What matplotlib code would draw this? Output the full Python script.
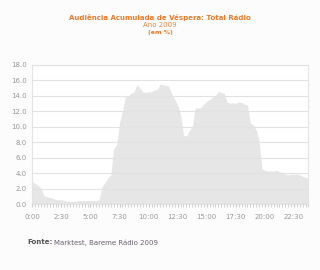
import numpy as np
import matplotlib.pyplot as plt

# audiência acumulada (%) por quarto de hora, 0:00 .. 23:45
audiencia = [
    2.9, 2.7, 2.4, 2.1, 1.1, 1.0, 0.9, 0.8,
    0.6, 0.6, 0.6, 0.5, 0.4, 0.4, 0.4, 0.4,
    0.5, 0.5, 0.5, 0.5, 0.5, 0.5, 0.5, 0.6,
    2.3, 2.8, 3.4, 3.8, 7.2, 7.6, 10.5, 12.0,
    13.9, 14.0, 14.3, 14.5, 15.4, 15.0, 14.5, 14.4,
    14.5, 14.5, 14.7, 14.8, 15.5, 15.4, 15.3, 15.2,
    14.2, 13.5, 12.8, 11.6, 8.9, 8.8, 9.5, 10.0,
    12.4, 12.4, 12.5, 12.9, 13.3, 13.5, 13.8, 14.0,
    14.6, 14.4, 14.3, 13.2, 13.0, 13.1, 13.0, 13.2,
    13.1, 12.9, 12.8, 10.5, 10.2, 9.6, 8.2, 4.6,
    4.4, 4.3, 4.3, 4.3, 4.4, 4.2, 4.1, 3.9,
    3.8, 3.9, 3.9, 3.9, 3.8, 3.6, 3.5, 3.3,
]
tick_horas = [0, 2.5, 5, 7.5, 10, 12.5, 15, 17.5, 20, 22.5]
tick_labels = ['0:00', '2:30', '5:00', '7:30', '10:00', '12:30', '15:00', '17:30', '20:00', '22:30']
y_ticks = [0, 2, 4, 6, 8, 10, 12, 14, 16, 18]

horas = np.arange(len(audiencia)) * 0.25

fig = plt.figure(figsize=(3.2, 2.7), dpi=100, facecolor='#fcfcfc')
ax = fig.add_axes([0.101, 0.243, 0.863, 0.518])
ax.set_facecolor('white')

ax.fill_between(horas, audiencia, 0, color='#e6e6e6', lw=0)
ax.set_xlim(0, 23.75)
ax.set_ylim(0, 18)

ax.set_yticks(y_ticks)
ax.set_yticklabels([f'{v:.1f}' for v in y_ticks])
ax.set_xticks(tick_horas)
ax.set_xticklabels(tick_labels)
ax.set_xticks(horas, minor=True)
ax.yaxis.grid(True, color='#e2e2e2', lw=0.8)
ax.set_axisbelow(False)
for t in ax.yaxis.get_gridlines():
    t.set_zorder(0.5)

ax.tick_params(axis='y', length=0, labelsize=5, labelcolor='#999999', pad=4)
ax.tick_params(axis='x', which='major', length=2, color='#cccccc', labelsize=5,
               labelcolor='#999999', pad=5)
ax.tick_params(axis='x', which='minor', length=2, color='#cccccc')
for s in ax.spines.values():
    s.set_color('#e4e4e4')
    s.set_linewidth(0.8)

fig.text(0.5, 0.937, 'Audiência Acumulada de Véspera: Total Rádio', ha='center', va='center',
         fontsize=5, fontweight='bold', color='#e87a2a')
fig.text(0.5, 0.907, 'Ano 2009', ha='center', va='center', fontsize=5, color='#d9884a')
fig.text(0.5, 0.878, '(em %)', ha='center', va='center', fontsize=4.5, fontweight='bold',
         color='#e87a2a')

fig.text(0.084, 0.102, 'Fonte:', ha='left', va='center', fontsize=5, fontweight='bold',
         color='#555555')
fig.text(0.17, 0.102, 'Marktest, Bareme Rádio 2009', ha='left', va='center', fontsize=5,
         color='#6a6070')

fig.savefig('out.png', dpi=100, facecolor=fig.get_facecolor())
